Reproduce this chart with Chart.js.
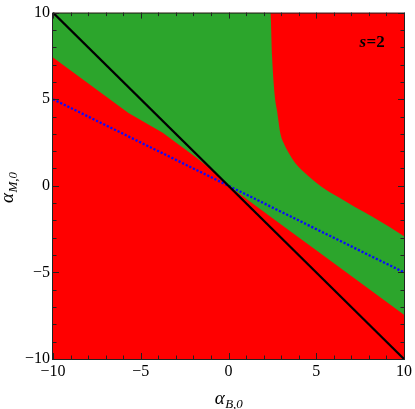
<!DOCTYPE html>
<html>
<head>
<meta charset="utf-8">
<title>s=2 region</title>
<script src="https://cdn.jsdelivr.net/npm/chart.js@4.4.1/dist/chart.umd.min.js"></script>
<style>
  html, body { margin: 0; padding: 0; background: #fff; }
  #wrap { width: 415px; height: 409px; position: relative; }
</style>
</head>
<body>
<div id="wrap"><canvas id="chart"></canvas></div>
<script>
// axis ticks
const tickValues = [-10, -5, 0, 5, 10];
const tickLabels = ['\u221210', '\u22125', '0', '5', '10'];

// upper edge of the green region (top of frame, then the curve bending down to the right)
const greenTopX = [-10, 2.39, 2.48, 2.63, 2.77, 2.96, 3.15, 3.4, 3.81, 4.56, 5.3, 6.3, 7.2, 8.2, 9.2, 10];
const greenTopY = [10, 10, 7.51, 5.24, 4.3, 3.0, 2.45, 1.95, 1.3, 0.55, -0.05, -0.68, -1.22, -1.78, -2.4, -2.92];

// lower edge of the green region
const greenLowX = [-10, -5.7, -3.75, -1.86, -0.8, 0, 2.86, 5, 10];
const greenLowY = [7.41, 4.2, 3.07, 1.65, 0.78, 0, -2.13, -3.72, -7.45];

// red background (whole frame)
const redX = [-10, 10];
const redY = [10, 10];

// black solid line and blue dotted line
const blackX = [-10, 10];
const blackY = [10, -10];
const blueX = [-10, 10];
const blueY = [5, -5];

const pts = (xs, ys) => xs.map((x, i) => ({ x: x, y: ys[i] }));

const serif = "'Liberation Serif', 'DejaVu Serif', serif";

// frame with inward ticks on all four sides, axis titles and the s=2 label
const framePlugin = {
    id: 'frame',
    afterDraw(chart) {
        const ctx = chart.ctx;
        const a = chart.chartArea;
        const xs = chart.scales.x;
        const ys = chart.scales.y;
        ctx.save();
        ctx.strokeStyle = '#222';
        ctx.lineWidth = 1;
        ctx.strokeRect(a.left - 0.5, a.top + 0.5, a.right - a.left + 1, a.bottom - a.top);

        ctx.beginPath();
        for (let v = -10; v <= 10; v++) {
            const len = tickValues.includes(v) ? 6 : 3.5;
            const px = Math.round(xs.getPixelForValue(v)) + 0.5;
            ctx.moveTo(px, a.bottom); ctx.lineTo(px, a.bottom - len);
            ctx.moveTo(px, a.top); ctx.lineTo(px, a.top + len);
            const py = Math.round(ys.getPixelForValue(v)) + 0.5;
            ctx.moveTo(a.left, py); ctx.lineTo(a.left + len, py);
            ctx.moveTo(a.right, py); ctx.lineTo(a.right - len, py);
        }
        ctx.stroke();

        ctx.fillStyle = '#000';
        ctx.textBaseline = 'alphabetic';
        // x title
        drawSub(ctx, 'B,0', (a.left + a.right) / 2, 404);
        // y title, rotated
        ctx.save();
        ctx.translate(13, (a.top + a.bottom) / 2 + 2);
        ctx.rotate(-Math.PI / 2);
        drawSub(ctx, 'M,0', 0, 0);
        ctx.restore();

        // s=2 label
        const lx = xs.getPixelForValue(8.9);
        const ly = ys.getPixelForValue(8.0);
        ctx.font = 'bold 17px ' + serif;
        const w2 = ctx.measureText('=2').width;
        ctx.textAlign = 'left';
        ctx.fillText('=2', lx - w2, ly);
        ctx.font = 'italic bold 17px ' + serif;
        const ws = ctx.measureText('s').width;
        ctx.fillText('s', lx - w2 - ws - 0.5, ly);
        ctx.restore();
    }
};

// alpha with a subscript, centred on x
function drawSub(ctx, sub, cx, baseY) {
    ctx.font = 'italic 19px ' + serif;
    const wa = ctx.measureText('\u03b1').width;
    ctx.font = 'italic 13px ' + serif;
    const ws = ctx.measureText(sub).width;
    const x0 = cx - (wa + ws) / 2;
    ctx.textAlign = 'left';
    ctx.font = 'italic 19px ' + serif;
    ctx.fillText('\u03b1', x0, baseY);
    ctx.font = 'italic 13px ' + serif;
    ctx.fillText(sub, x0 + wa + 0.5, baseY + 4);
}

const axisCommon = {
    type: 'linear',
    min: -10,
    max: 10,
    afterBuildTicks: (scale) => { scale.ticks = tickValues.map(v => ({ value: v })); },
    grid: { drawOnChartArea: false, drawTicks: false },
    border: { display: false },
    ticks: {
        color: '#000',
        font: { family: serif, size: 16 },
        padding: 3,
        maxRotation: 0,
        autoSkip: false,
        callback: (v) => tickLabels[tickValues.indexOf(v)]
    }
};

new Chart(document.getElementById('chart'), {
    type: 'scatter',
    data: {
        datasets: [
            { data: pts(blackX, blackY), showLine: true, borderColor: '#000', borderWidth: 2.2, pointRadius: 0 },
            { data: pts(blueX, blueY), showLine: true, borderColor: '#0a0aff', borderWidth: 2.3, borderDash: [2.2, 1.8], pointRadius: 0 },
            { data: pts(greenTopX, greenTopY), showLine: true, borderWidth: 0, borderColor: 'rgba(0,0,0,0)', pointRadius: 0,
              cubicInterpolationMode: 'monotone', fill: '+1', backgroundColor: '#2ca52c' },
            { data: pts(greenLowX, greenLowY), showLine: true, borderWidth: 0, borderColor: 'rgba(0,0,0,0)', pointRadius: 0 },
            { data: pts(redX, redY), showLine: true, borderWidth: 0, borderColor: 'rgba(0,0,0,0)', pointRadius: 0,
              fill: 'start', backgroundColor: '#ff0000' }
        ]
    },
    options: {
        responsive: true,
        maintainAspectRatio: false,
        animation: false,
        layout: { padding: { left: 0, top: 6, right: 9, bottom: 0 } },
        plugins: {
            legend: { display: false },
            tooltip: { enabled: false }
        },
        scales: {
            x: Object.assign({}, axisCommon, { afterFit: (s) => { s.height = 50; } }),
            y: Object.assign({}, axisCommon, { afterFit: (s) => { s.width = 53; } })
        }
    },
    plugins: [framePlugin]
});
</script>
</body>
</html>
